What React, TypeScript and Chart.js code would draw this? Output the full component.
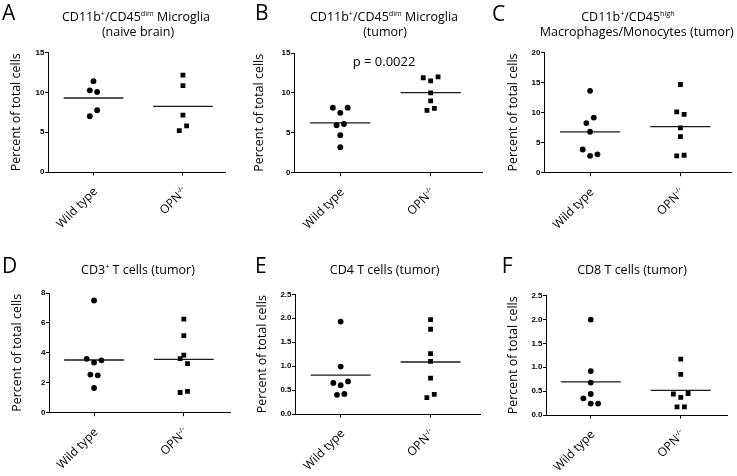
import React, { useEffect, useRef } from 'react';
import { Chart, registerables } from 'chart.js';

Chart.register(...registerables);

type Part = { t: string; sup?: boolean };

// ---------- data ----------
const CATEGORY_NAMES = ['Wild type', 'OPN'];
const CATEGORY_SUPS = ['', '-/-'];
const Y_TITLE = 'Percent of total cells';

// A: CD11b+/CD45dim Microglia (naive brain)
const A_WT = [11.4, 10.25, 10.05, 7.75, 7.0];
const A_KO = [12.15, 10.85, 7.15, 5.8, 5.2];
const A_WT_JITTER = [0, -1, 1, 1, -1];
const A_KO_JITTER = [0, 0, 0, 1, -1];

// B: CD11b+/CD45dim Microglia (tumor)
const B_WT = [8.15, 8.15, 7.5, 5.95, 6.1, 4.7, 3.2];
const B_KO = [11.9, 12.0, 11.5, 10.0, 9.0, 7.8, 8.05];
const B_WT_JITTER = [-2, 2, 0, -1, 1, 0, 0];
const B_KO_JITTER = [-2, 2, 0, 0, 0, -1, 1];
const B_P_VALUE = 'p = 0.0022';

// C: CD11b+/CD45high Macrophages/Monocytes (tumor)
const C_WT = [13.6, 9.15, 8.25, 6.8, 3.85, 2.8, 3.05];
const C_KO = [14.65, 10.1, 9.7, 7.45, 6.0, 2.8, 2.9];
const C_WT_JITTER = [0, 1, -1, 0, -2, 0, 2];
const C_KO_JITTER = [0, -1, 1, 0, 0, -1, 1];

// D: CD3+ T cells (tumor)
const D_WT = [7.5, 3.6, 3.35, 3.5, 2.55, 2.5, 1.65];
const D_KO = [6.25, 5.15, 3.85, 3.62, 3.28, 1.35, 1.42];
const D_WT_JITTER = [0, -2, 0, 2, -1, 1, 0];
const D_KO_JITTER = [0, 0, 0, -1, 1, -1, 1];

// E: CD4 T cells (tumor)
const E_WT = [1.93, 0.99, 0.65, 0.6, 0.68, 0.4, 0.42];
const E_KO = [1.97, 1.77, 1.26, 1.1, 0.75, 0.34, 0.41];
const E_WT_JITTER = [0, 0, -2, 0, 2, -1, 1];
const E_KO_JITTER = [0, 0, 0, 0, 0, -1, 1];

// F: CD8 T cells (tumor)
const F_WT = [2.0, 0.92, 0.68, 0.44, 0.35, 0.24, 0.24];
const F_KO = [1.17, 0.85, 0.44, 0.45, 0.37, 0.17, 0.17];
const F_WT_JITTER = [0, 0, 0, 0, -2, 0, 2];
const F_KO_JITTER = [0, 0, -2, 2, 0, -1, 1];

const TITLE_A: Part[][] = [
  [{ t: 'CD11b' }, { t: '+', sup: true }, { t: '/CD45' }, { t: 'dim', sup: true }, { t: ' Microglia' }],
  [{ t: '(naive brain)' }],
];
const TITLE_B: Part[][] = [
  [{ t: 'CD11b' }, { t: '+', sup: true }, { t: '/CD45' }, { t: 'dim', sup: true }, { t: ' Microglia' }],
  [{ t: '(tumor)' }],
];
const TITLE_C: Part[][] = [
  [{ t: 'CD11b' }, { t: '+', sup: true }, { t: '/CD45' }, { t: 'high', sup: true }],
  [{ t: 'Macrophages/Monocytes (tumor)' }],
];
const TITLE_D: Part[][] = [[{ t: 'CD3' }, { t: '+', sup: true }, { t: ' T cells (tumor)' }]];
const TITLE_E: Part[][] = [[{ t: 'CD4 T cells (tumor)' }]];
const TITLE_F: Part[][] = [[{ t: 'CD8 T cells (tumor)' }]];

const PANELS = [
  { letter: 'A', title: TITLE_A, wt: A_WT, ko: A_KO, wtJ: A_WT_JITTER, koJ: A_KO_JITTER, yMax: 15, yStep: 5, dec: 0, p: '' },
  { letter: 'B', title: TITLE_B, wt: B_WT, ko: B_KO, wtJ: B_WT_JITTER, koJ: B_KO_JITTER, yMax: 15, yStep: 5, dec: 0, p: B_P_VALUE },
  { letter: 'C', title: TITLE_C, wt: C_WT, ko: C_KO, wtJ: C_WT_JITTER, koJ: C_KO_JITTER, yMax: 20, yStep: 5, dec: 0, p: '' },
  { letter: 'D', title: TITLE_D, wt: D_WT, ko: D_KO, wtJ: D_WT_JITTER, koJ: D_KO_JITTER, yMax: 8, yStep: 2, dec: 0, p: '' },
  { letter: 'E', title: TITLE_E, wt: E_WT, ko: E_KO, wtJ: E_WT_JITTER, koJ: E_KO_JITTER, yMax: 2.5, yStep: 0.5, dec: 1, p: '' },
  { letter: 'F', title: TITLE_F, wt: F_WT, ko: F_KO, wtJ: F_WT_JITTER, koJ: F_KO_JITTER, yMax: 2.5, yStep: 0.5, dec: 1, p: '' },
];

// ---------- layout / style ----------
const LAYOUT = [
  { x: 0, y: 0, w: 245, h: 238, L: 48, T: 52.5, R: 225, B: 172, xMin: 0.492, xMax: 2.47, lx: 2, ly: 20, tcx: [136, 138], tby: [20.5, 36], ytc: 16.7, px: 0, py: 0 },
  { x: 245, y: 0, w: 245, h: 238, L: 49, T: 53, R: 237, B: 172.7, xMin: 0.488, xMax: 2.568, lx: 10, ly: 20, tcx: [139, 140], tby: [20.5, 36], ytc: 14, px: 139, py: 65.5 },
  { x: 490, y: 0, w: 247, h: 238, L: 54, T: 52.3, R: 241, B: 172.7, xMin: 0.49, xMax: 2.56, lx: 2, ly: 20.5, tcx: [138, 146.7], tby: [20.5, 36], ytc: 23, px: 0, py: 0 },
  { x: 0, y: 238, w: 245, h: 238, L: 49, T: 55, R: 230.5, B: 174.7, xMin: 0.498, xMax: 2.52, lx: 2, ly: 35, tcx: [138], tby: [36], ytc: 17, px: 0, py: 0 },
  { x: 245, y: 238, w: 245, h: 238, L: 50, T: 56.3, R: 235, B: 176, xMin: 0.492, xMax: 2.55, lx: 10, ly: 35, tcx: [139.7], tby: [36], ytc: 17, px: 0, py: 0 },
  { x: 490, y: 238, w: 247, h: 238, L: 56, T: 57.7, R: 237, B: 177, xMin: 0.503, xMax: 2.514, lx: 11.7, ly: 35, tcx: [142], tby: [36], ytc: 23, px: 0, py: 0 },
];

const FONT = '"Open Sans", "DejaVu Sans", sans-serif';
const TICK_FONT = '"Liberation Sans", Arial, sans-serif';
const INK = '#000';
const JSTEP = 0.041;
const MEAN_HALF = 0.333;
const XH = 4;
const SUP_SCALE = 0.58;

const mean = (a: number[]) => a.reduce((s, v) => s + v, 0) / a.length;

function partFont(size: number, sup?: boolean) {
  return `${sup ? size * SUP_SCALE : size}px ${FONT}`;
}

function richWidth(ctx: CanvasRenderingContext2D, parts: Part[], size: number) {
  let w = 0;
  for (const p of parts) {
    ctx.font = partFont(size, p.sup);
    w += ctx.measureText(p.t).width;
  }
  return w;
}

function drawRich(ctx: CanvasRenderingContext2D, parts: Part[], x: number, y: number, size: number, align: 'left' | 'center' | 'right') {
  const w = richWidth(ctx, parts, size);
  let cx = align === 'center' ? x - w / 2 : align === 'right' ? x - w : x;
  ctx.textAlign = 'left';
  ctx.textBaseline = 'alphabetic';
  for (const p of parts) {
    ctx.font = partFont(size, p.sup);
    const dy = p.sup ? -size * 0.38 : 0;
    ctx.fillText(p.t, cx, y + dy);
    cx += ctx.measureText(p.t).width;
  }
}

function Panel({ idx }: { idx: number }) {
  const ref = useRef<HTMLCanvasElement | null>(null);
  const P = PANELS[idx];
  const G = LAYOUT[idx];

  useEffect(() => {
    if (!ref.current) return;
    const catParts: Part[][] = CATEGORY_NAMES.map((n, k) =>
      CATEGORY_SUPS[k] ? [{ t: n }, { t: CATEGORY_SUPS[k], sup: true }] : [{ t: n }]
    );
    const textPlugin = {
      id: 'panelText' + idx,
      afterDraw(chart: any) {
        const ctx: CanvasRenderingContext2D = chart.ctx;
        ctx.save();
        ctx.fillStyle = INK;
        ctx.font = `21px ${FONT}`;
        ctx.textAlign = 'left';
        ctx.textBaseline = 'alphabetic';
        ctx.fillText(P.letter, G.lx, G.ly);
        P.title.forEach((line, k) => drawRich(ctx, line, G.tcx[k], G.tby[k], 12.5, 'center'));
        if (P.p) drawRich(ctx, [{ t: P.p }], G.px, G.py, 13, 'center');
        const xs = chart.scales.x;
        const b = chart.chartArea.bottom;
        catParts.forEach((parts, k) => {
          const px = xs.getPixelForValue(k + 1);
          ctx.save();
          ctx.translate(px + 4.5, b + 20);
          ctx.rotate(-Math.PI / 4);
          drawRich(ctx, parts, 0, 0, 12, 'right');
          ctx.restore();
        });
        ctx.restore();
      },
    };

    const mWt = mean(P.wt);
    const mKo = mean(P.ko);
    const chart = new Chart(ref.current, {
      type: 'scatter',
      data: {
        datasets: [
          {
            data: P.wt.map((v, i) => ({ x: 1 + P.wtJ[i] * JSTEP, y: v })),
            pointStyle: 'circle',
            pointRadius: 2.9,
            backgroundColor: '#000',
            borderWidth: 0,
          },
          {
            data: P.ko.map((v, i) => ({ x: 2 + P.koJ[i] * JSTEP, y: v })),
            pointStyle: 'rect',
            pointRadius: 3.4,
            backgroundColor: '#000',
            borderWidth: 0,
          },
          {
            data: [{ x: 1 - MEAN_HALF, y: mWt }, { x: 1 + MEAN_HALF, y: mWt }],
            showLine: true,
            borderColor: '#1a1a1a',
            borderWidth: 1.3,
            pointRadius: 0,
          },
          {
            data: [{ x: 2 - MEAN_HALF, y: mKo }, { x: 2 + MEAN_HALF, y: mKo }],
            showLine: true,
            borderColor: '#1a1a1a',
            borderWidth: 1.3,
            pointRadius: 0,
          },
        ] as any,
      },
      options: {
        responsive: false,
        animation: false,
        events: [],
        layout: { padding: { left: 0, top: G.T, right: G.w - G.R, bottom: G.h - G.B - XH } },
        plugins: { legend: { display: false }, tooltip: { enabled: false } },
        scales: {
          x: {
            type: 'linear',
            min: G.xMin,
            max: G.xMax,
            afterBuildTicks: (s: any) => {
              s.ticks = [{ value: 1 }, { value: 2 }];
            },
            ticks: { display: false },
            grid: { display: true, drawOnChartArea: false, drawTicks: true, tickLength: 3.5, color: '#000', lineWidth: 1 },
            border: { display: true, color: '#000', width: 1 },
            afterFit: (s: any) => {
              s.height = XH;
            },
          },
          y: {
            type: 'linear',
            position: 'left',
            min: 0,
            max: P.yMax,
            ticks: {
              stepSize: P.yStep,
              color: '#000',
              padding: 0.5,
              font: { family: TICK_FONT, size: 8, weight: 'bold' },
              callback: (v: any) => Number(v).toFixed(P.dec),
            },
            grid: { display: true, drawOnChartArea: false, drawTicks: true, tickLength: 3, color: '#000', lineWidth: 1 },
            border: { display: true, color: '#000', width: 1 },
            title: {
              display: true,
              text: Y_TITLE,
              color: INK,
              font: { family: FONT, size: 12.5, lineHeight: 1.2 },
              padding: { top: G.ytc - 7.5, bottom: 0 },
            },
            afterFit: (s: any) => {
              s.width = G.L;
            },
          },
        },
      } as any,
      plugins: [textPlugin],
    });
    return () => chart.destroy();
  }, [idx]);

  return (
    <canvas
      ref={ref}
      width={G.w}
      height={G.h}
      style={{ position: 'absolute', left: G.x, top: G.y, width: G.w, height: G.h, display: 'block' }}
    />
  );
}

export default function App() {
  return (
    <div style={{ position: 'fixed', left: 0, top: 0, width: 737, height: 476, background: '#fff', overflow: 'hidden' }}>
      {PANELS.map((_, i) => (
        <Panel key={i} idx={i} />
      ))}
    </div>
  );
}
